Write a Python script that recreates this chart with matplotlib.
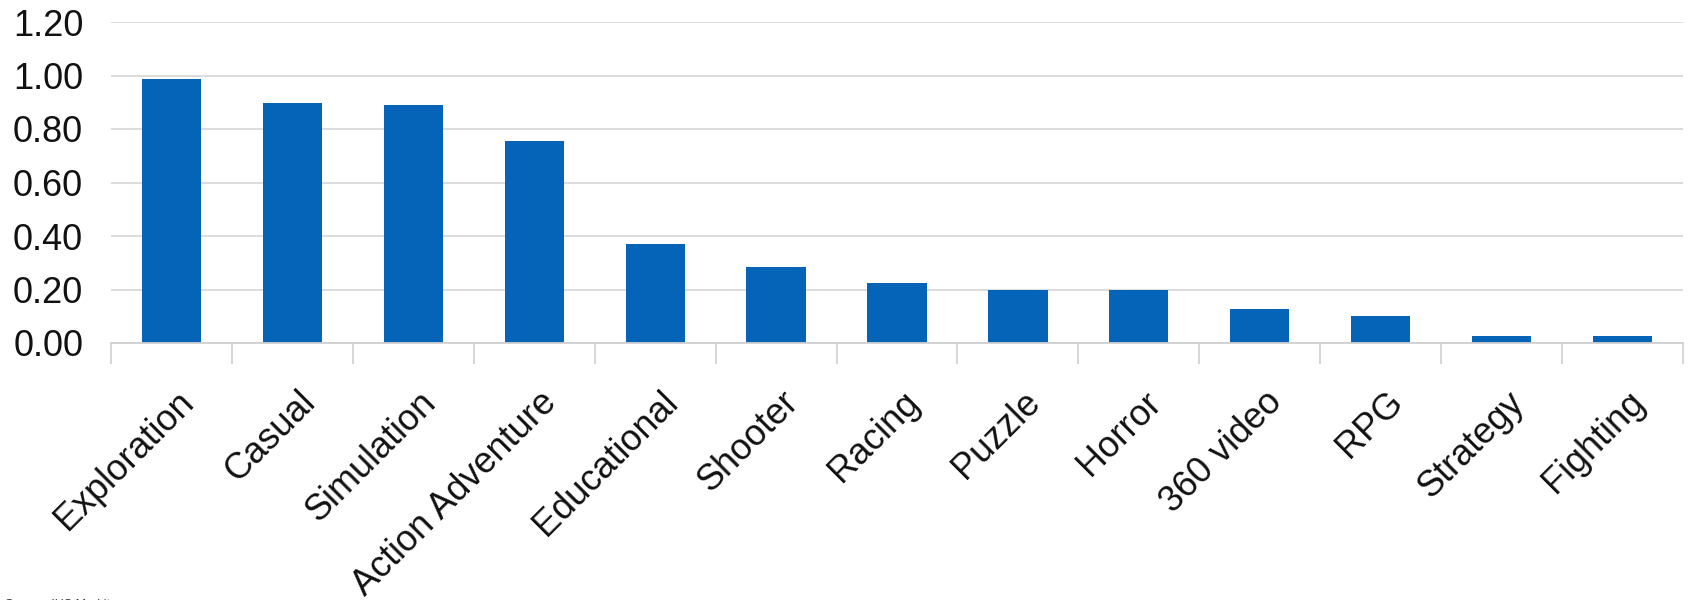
import matplotlib
matplotlib.use("Agg")
import matplotlib.pyplot as plt
import matplotlib.transforms as mtransforms
import numpy as np

categories = ["Exploration", "Casual", "Simulation", "Action Adventure", "Educational",
              "Shooter", "Racing", "Puzzle", "Horror", "360 video", "RPG", "Strategy", "Fighting"]
values = [0.988, 0.898, 0.891, 0.754, 0.370, 0.285, 0.226, 0.200, 0.200, 0.127, 0.100, 0.028, 0.026]
y_ticks = [0.0, 0.2, 0.4, 0.6, 0.8, 1.0, 1.2]
y_tick_labels = ["0.00", "0.20", "0.40", "0.60", "0.80", "1.00", "1.20"]
source_text = "Source: IHS Markit"

plt.rcParams['font.family'] = ['Liberation Sans', 'DejaVu Sans']

fig = plt.figure(figsize=(16.88, 6.00), dpi=100)
ax = fig.add_axes([111/1688, 1 - 343/600, (1683 - 111)/1688, (343 - 22)/600])

x = np.arange(len(categories))
ax.bar(x, values, width=0.49, color="#0563B8", zorder=3)

ax.set_xlim(-0.5, len(categories) - 0.5)
ax.set_ylim(0, 1.2)

ax.set_yticks(y_ticks)
ax.set_yticklabels(y_tick_labels, fontsize=26, color="#111111")
ax.tick_params(axis='y', length=0, pad=20)
ax.yaxis.grid(True, color="#d9d9d9", linewidth=1.3, zorder=0)

# category boundary ticks (major), labels at centers (minor)
ax.set_xticks(np.arange(len(categories) + 1) - 0.5)
ax.set_xticklabels([])
ax.tick_params(axis='x', which='major', length=15, width=1.2, color="#d0d0d0", direction='out')
ax.set_xticks(x, minor=True)
ax.set_xticklabels(categories, minor=True, fontsize=26, rotation=45,
                   ha='right', va='center', rotation_mode='anchor', color="#111111")
ax.tick_params(axis='x', which='minor', length=0, pad=39)
offset = mtransforms.ScaledTranslation(17/100, 0, fig.dpi_scale_trans)
for lbl in ax.xaxis.get_minorticklabels():
    lbl.set_transform(lbl.get_transform() + offset)

for side in ["top", "right", "left"]:
    ax.spines[side].set_visible(False)
ax.spines["bottom"].set_color("#d0d0d0")
ax.spines["bottom"].set_linewidth(1.3)
ax.spines["bottom"].set_zorder(4)

fig.text(0.003, 1.5/600, source_text, fontsize=9, va='top', ha='left', color="#333333")

fig.savefig("out.png", dpi=100, facecolor="white")
